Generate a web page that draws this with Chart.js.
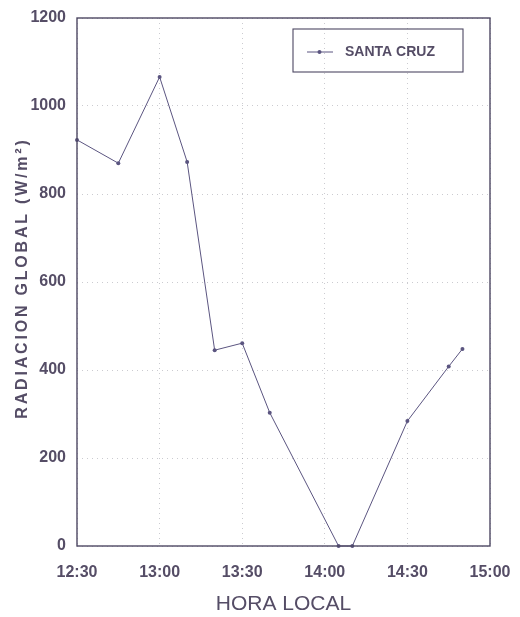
<!DOCTYPE html>
<html>
<head>
<meta charset="utf-8">
<script src="https://cdn.jsdelivr.net/npm/chart.js@4/dist/chart.umd.min.js"></script>
<style>
  html, body { margin: 0; padding: 0; background: #fff; }
  #wrap { width: 520px; height: 617px; }
</style>
</head>
<body>
<div id="wrap"><canvas id="c" width="520" height="617"></canvas></div>
<script>
// Local time of each reading and global radiation measured (W/m²)
const horas = ['12:30', '12:45', '13:00', '13:10', '13:20', '13:30', '13:40', '14:05', '14:10', '14:30', '14:45', '14:50'];
const radiacion = [923, 870, 1066, 873, 445, 461, 303, 0, 0, 284, 408, 448];
const serieNombre = 'SANTA CRUZ';
const yTicks = [0, 200, 400, 600, 800, 1000, 1200];
const xTickLabels = ['12:30', '13:00', '13:30', '14:00', '14:30', '15:00'];
const yTitulo = 'RADIACION GLOBAL (W/m²)';

const INK = '#554d66';
const LINE = '#5b5580';
const FAMILY = '"Liberation Sans", Arial, sans-serif';

const toMin = h => { const [a, b] = h.split(':').map(Number); return a * 60 + b; };
const t0 = toMin(xTickLabels[0]);
const puntos = horas.map((h, i) => ({ x: toMin(h) - t0, y: radiacion[i] }));

// Frame around the plot area, the spaced-out vertical axis title and the boxed legend
const marco = {
  id: 'marco',
  afterDatasetsDraw(chart) {
    const { ctx, chartArea: a } = chart;
    ctx.save();
    ctx.strokeStyle = '#4d4863';
    ctx.lineWidth = 1.4;
    ctx.strokeRect(a.left, a.top, a.right - a.left, a.bottom - a.top);

    // vertical axis title
    ctx.save();
    ctx.translate(22.5, 278);
    ctx.rotate(-Math.PI / 2);
    ctx.fillStyle = INK;
    ctx.font = 'bold 16px ' + FAMILY;
    ctx.letterSpacing = '2.8px';
    ctx.textAlign = 'center';
    ctx.textBaseline = 'middle';
    ctx.fillText(yTitulo, 0, 0);
    ctx.restore();

    // legend box
    const bx = 293, by = 29, bw = 170, bh = 43;
    ctx.strokeStyle = '#4d4863';
    ctx.lineWidth = 1.1;
    ctx.strokeRect(bx, by, bw, bh);
    const ly = by + bh / 2 + 1.5;
    ctx.strokeStyle = LINE;
    ctx.lineWidth = 1;
    ctx.beginPath();
    ctx.moveTo(307, ly);
    ctx.lineTo(333, ly);
    ctx.stroke();
    ctx.fillStyle = LINE;
    ctx.beginPath();
    ctx.arc(319.5, ly, 2, 0, Math.PI * 2);
    ctx.fill();
    ctx.fillStyle = INK;
    ctx.font = 'bold 14px ' + FAMILY;
    ctx.textBaseline = 'middle';
    ctx.textAlign = 'left';
    ctx.fillText(chart.data.datasets[0].label, 345, ly);
    ctx.restore();
  }
};

new Chart(document.getElementById('c'), {
  type: 'line',
  data: {
    datasets: [{
      label: serieNombre,
      data: puntos,
      borderColor: LINE,
      backgroundColor: LINE,
      borderWidth: 1,
      pointRadius: 2,
      pointHoverRadius: 2,
      pointBorderWidth: 0,
      tension: 0,
      clip: false
    }]
  },
  options: {
    responsive: false,
    animation: false,
    events: [],
    layout: { padding: { top: 18, right: 30, left: 0, bottom: 0 } },
    plugins: { legend: { display: false }, tooltip: { enabled: false } },
    scales: {
      x: {
        type: 'linear',
        min: 0,
        max: 150,
        afterFit(s) { s.height = 71; s.paddingLeft = 0; s.paddingRight = 0; },
        afterBuildTicks(s) { s.ticks = xTickLabels.map(h => ({ value: toMin(h) - t0 })); },
        ticks: {
          color: INK,
          padding: 17,
          maxRotation: 0,
          font: { family: FAMILY, size: 16, weight: 'bold' },
          callback: (v) => xTickLabels[Math.round(v / 30)]
        },
        grid: {
          drawTicks: false,
          color: 'rgba(140,140,150,0.45)',
          lineWidth: 1
        },
        border: { display: false, dash: [1, 4] },
        title: {
          display: true,
          text: 'HORA LOCAL',
          color: INK,
          padding: { top: 0, bottom: 0 },
          font: { family: FAMILY, size: 21 }
        }
      },
      y: {
        min: 0,
        max: 1200,
        afterFit(s) { s.width = 77; s.paddingTop = 0; s.paddingBottom = 0; },
        afterBuildTicks(s) { s.ticks = yTicks.map(v => ({ value: v })); },
        ticks: {
          color: INK,
          padding: 11,
          font: { family: FAMILY, size: 16, weight: 'bold' },
          callback: (v) => String(v)
        },
        grid: {
          drawTicks: false,
          color: 'rgba(140,140,150,0.45)',
          lineWidth: 1
        },
        border: { display: false, dash: [1, 4] }
      }
    }
  },
  plugins: [marco]
});
</script>
</body>
</html>
